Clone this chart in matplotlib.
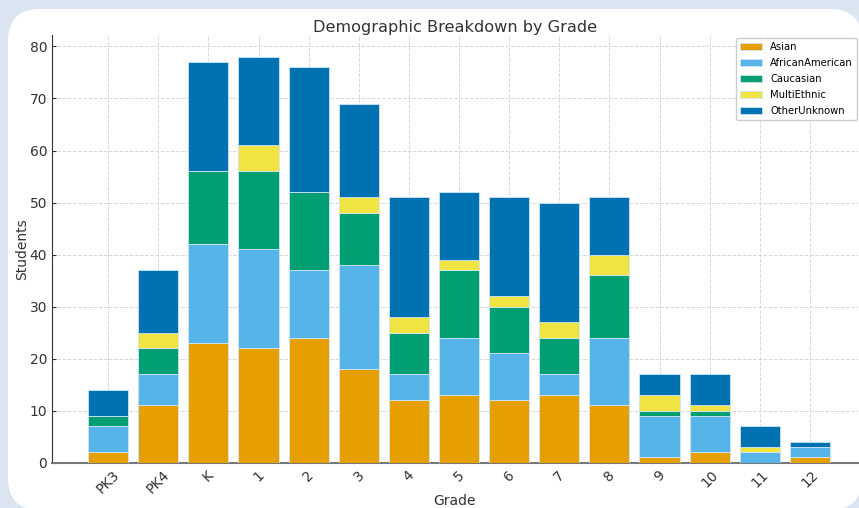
import matplotlib
matplotlib.use("Agg")
import matplotlib.pyplot as plt
from matplotlib.patches import FancyBboxPatch
import numpy as np

grades = ["PK3", "PK4", "K", "1", "2", "3", "4", "5", "6", "7", "8", "9", "10", "11", "12"]
asian = [2, 11, 23, 22, 24, 18, 12, 13, 12, 13, 11, 1, 2, 0, 1]
african_american = [5, 6, 19, 19, 13, 20, 5, 11, 9, 4, 13, 8, 7, 2, 2]
caucasian = [2, 5, 14, 15, 15, 10, 8, 13, 9, 7, 12, 1, 1, 0, 0]
multi_ethnic = [0, 3, 0, 5, 0, 3, 3, 2, 2, 3, 4, 3, 1, 1, 0]
other_unknown = [5, 12, 21, 17, 24, 18, 23, 13, 19, 23, 11, 4, 6, 4, 1]

series = [
    ("Asian", asian, "#E69F00"),
    ("AfricanAmerican", african_american, "#56B4E9"),
    ("Caucasian", caucasian, "#009E73"),
    ("MultiEthnic", multi_ethnic, "#F0E442"),
    ("OtherUnknown", other_unknown, "#0072B2"),
]

W, H = 859, 508
fig = plt.figure(figsize=(W / 100, H / 100), dpi=100)
fig.patch.set_facecolor("#dbe5f1")

bg = fig.add_axes([0, 0, 1, 1], zorder=-10)
bg.set_xlim(0, W)
bg.set_ylim(H, 0)
bg.axis("off")
bg.add_patch(FancyBboxPatch((8, 9), 854, 501,
                            boxstyle="round,pad=0,rounding_size=32",
                            facecolor="white", edgecolor="none"))

ax = fig.add_axes([52 / W, 1 - 462.7 / H, (858 - 52) / W, (462.7 - 35) / H], zorder=1)
ax.set_facecolor("none")

x = np.arange(len(grades))
bottom = np.zeros(len(grades))
for name, vals, color in series:
    ax.bar(x, vals, 0.8, bottom=bottom, color=color, label=name,
           edgecolor="#cfe6f5", linewidth=0.6, zorder=3)
    bottom += np.array(vals)

ax.set_xlim(-1.12, 14.96)
ax.set_ylim(0, 82.2)
ax.set_yticks(range(0, 81, 10))
ax.set_xticks(x)
ax.set_xticklabels(grades, rotation=45)
ax.grid(True, linestyle="--", color="#d8d8d8", linewidth=0.7, zorder=0)
for s in ["top", "right"]:
    ax.spines[s].set_visible(False)
ax.spines["left"].set_color("#333333")
ax.spines["bottom"].set_color("#777777")
ax.spines["bottom"].set_linewidth(1.5)
ax.tick_params(direction="in", colors="#333333", labelsize=10, length=3)

ax.set_title("Demographic Breakdown by Grade", fontsize=11.6, color="#333333", pad=2.5)
ax.set_xlabel("Grade", fontsize=10, color="#333333", labelpad=-1.5)
ax.set_ylabel("Students", fontsize=10, color="#333333", labelpad=0)

ax.legend(loc="upper right", bbox_to_anchor=(857 / W, 1 - 38 / H),
          bbox_transform=fig.transFigure, fontsize=7.2, frameon=True,
          edgecolor="#cccccc", framealpha=1, borderaxespad=0,
          handlelength=2.2, handletextpad=0.8, labelspacing=0.6)

fig.savefig("out.png", dpi=100, facecolor=fig.get_facecolor())
